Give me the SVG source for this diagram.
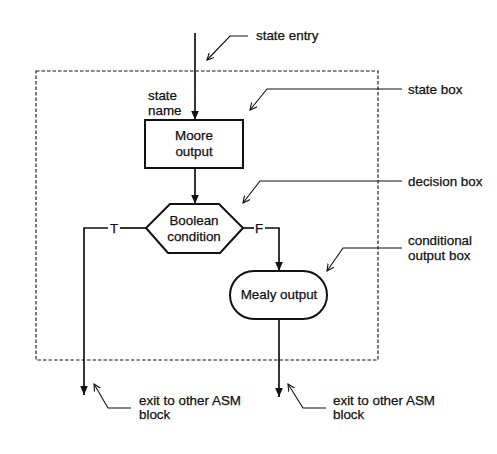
<svg xmlns="http://www.w3.org/2000/svg" width="497" height="454" viewBox="0 0 497 454">
<style>
text{font-family:"Liberation Sans",Arial,sans-serif;font-size:13.4px;fill:#111;stroke:#111;stroke-width:0.25}
.ln{stroke:#111;stroke-width:1.7;fill:none}
.ld{stroke:#111;stroke-width:1.1;fill:none}
.sh{stroke:#111;stroke-width:2;fill:#fff}
.mid{text-anchor:middle}
</style>
<defs>
<marker id="ah" markerWidth="10" markerHeight="12" refX="9" refY="5" orient="auto" markerUnits="userSpaceOnUse">
<path d="M0,1.2 L9,5 L0,8.8 Z" fill="#111"/>
</marker>
<marker id="oh" markerWidth="8" markerHeight="8" refX="7" refY="4" orient="auto" markerUnits="userSpaceOnUse">
<path d="M0,0.5 L7,4 L0,7.5" fill="none" stroke="#111" stroke-width="1.1"/>
</marker>
</defs>
<rect width="497" height="454" fill="#fff"/>
<rect id="asm-block" x="36" y="71" width="342" height="289" fill="none" stroke="#111" stroke-width="1.1" stroke-dasharray="3.5,2"/>
<g id="connectors">
<line class="ln" x1="195" y1="33" x2="195" y2="120" marker-end="url(#ah)"/>
<line class="ln" x1="195" y1="168" x2="195" y2="204" marker-end="url(#ah)"/>
<polyline class="ln" points="146,228 120,228"/>
<polyline class="ln" points="108,228 84,228 84,395" marker-end="url(#ah)"/>
<polyline class="ln" points="243,228 254,228"/>
<polyline class="ln" points="265,228 279,228 279,271" marker-end="url(#ah)"/>
<line class="ln" x1="279" y1="319" x2="279" y2="397" marker-end="url(#ah)"/>
<text x="114" y="232.5" class="mid">T</text>
<text x="259" y="232.5" class="mid">F</text>
</g>
<g id="state-box">
<rect class="sh" x="145" y="120" width="98" height="48"/>
<text x="194" y="140" class="mid">Moore</text>
<text x="194" y="156" class="mid">output</text>
<text x="148" y="100">state</text>
<text x="148" y="115">name</text>
</g>
<g id="decision-box">
<polygon class="sh" points="170,204 219,204 243,228 220,253 168,253 146,228"/>
<text x="194" y="225" class="mid">Boolean</text>
<text x="194" y="241" class="mid">condition</text>
</g>
<g id="conditional-output-box">
<rect class="sh" x="230" y="271" width="97" height="48" rx="24" ry="24"/>
<text x="279" y="299" class="mid">Mealy output</text>
</g>
<g id="annotations">
<polyline class="ld" points="248,36 230,36 207,60" marker-end="url(#oh)"/>
<text x="256" y="40">state entry</text>
<polyline class="ld" points="402,89 267,89 250,110" marker-end="url(#oh)"/>
<text x="408" y="94">state box</text>
<polyline class="ld" points="402,181 260,181 243,203" marker-end="url(#oh)"/>
<text x="408" y="186">decision box</text>
<polyline class="ld" points="402,248 343,248 327,271" marker-end="url(#oh)"/>
<text x="408" y="245">conditional</text>
<text x="408" y="260">output box</text>
<polyline class="ld" points="131,408 108,408 94,384" marker-end="url(#oh)"/>
<text x="139" y="405">exit to other ASM</text>
<text x="139" y="419">block</text>
<polyline class="ld" points="326,408 303,408 288,384" marker-end="url(#oh)"/>
<text x="333" y="405">exit to other ASM</text>
<text x="333" y="419">block</text>
</g>
</svg>
